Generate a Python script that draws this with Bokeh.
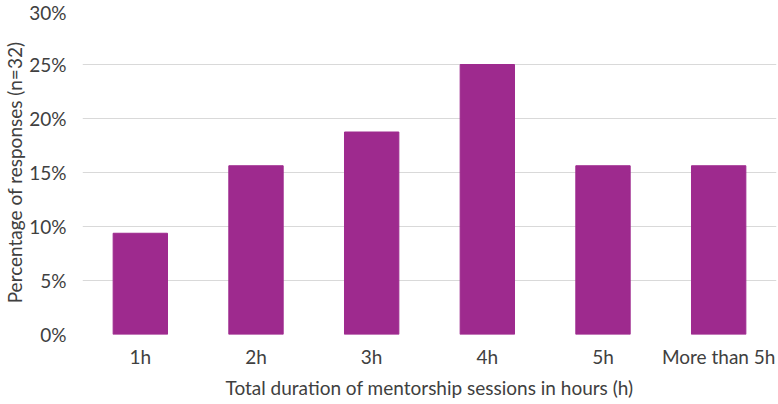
from bokeh.plotting import figure
from bokeh.models import ColumnDataSource, NumeralTickFormatter, FixedTicker
from bokeh.embed import file_html
from bokeh.resources import INLINE

categories = ["1h", "2h", "3h", "4h", "5h", "More than 5h"]
values = [0.09375, 0.15625, 0.1875, 0.25, 0.15625, 0.15625]
y_ticks = [0, 0.05, 0.10, 0.15, 0.20, 0.25, 0.30]
x_title = "Total duration of mentorship sessions in hours (h)"
y_title = "Percentage of responses (n=32)"

src = ColumnDataSource(dict(cat=categories, val=values))

p = figure(x_range=categories, y_range=(0, 0.30), width=778, height=404,
           output_backend="svg", toolbar_location=None,
           min_border_left=82, min_border_right=2, min_border_top=10, min_border_bottom=70)
p.outline_line_color = None
p.x_range.range_padding = 0

p.vbar(x="cat", top="val", width=0.47, source=src, color="#9E2A8E")

font = "Lato"
txt = "#404040"
fs = "19px"
for ax in (p.xaxis, p.yaxis):
    ax.axis_line_color = None
    ax.major_tick_line_color = None
    ax.minor_tick_line_color = None
    ax.major_tick_out = 0
    ax.minor_tick_out = 0
    ax.major_label_text_font = font
    ax.major_label_text_font_size = fs
    ax.major_label_text_color = txt
    ax.axis_label_text_font = font
    ax.axis_label_text_font_size = fs
    ax.axis_label_text_font_style = "normal"
    ax.axis_label_text_color = txt

p.yaxis.ticker = FixedTicker(ticks=y_ticks)
p.yaxis.formatter = NumeralTickFormatter(format="0%")
p.yaxis.major_label_standoff = 16
p.yaxis.axis_label = y_title
p.yaxis.axis_label_standoff = 0

p.xaxis.major_label_standoff = 10
p.xaxis.axis_label = x_title
p.xaxis.axis_label_standoff = 5

p.xgrid.grid_line_color = None
p.ygrid.grid_line_color = "#D9D9D9"
p.ygrid.grid_line_width = 1

open("out.html", "w").write(file_html(p, INLINE))
